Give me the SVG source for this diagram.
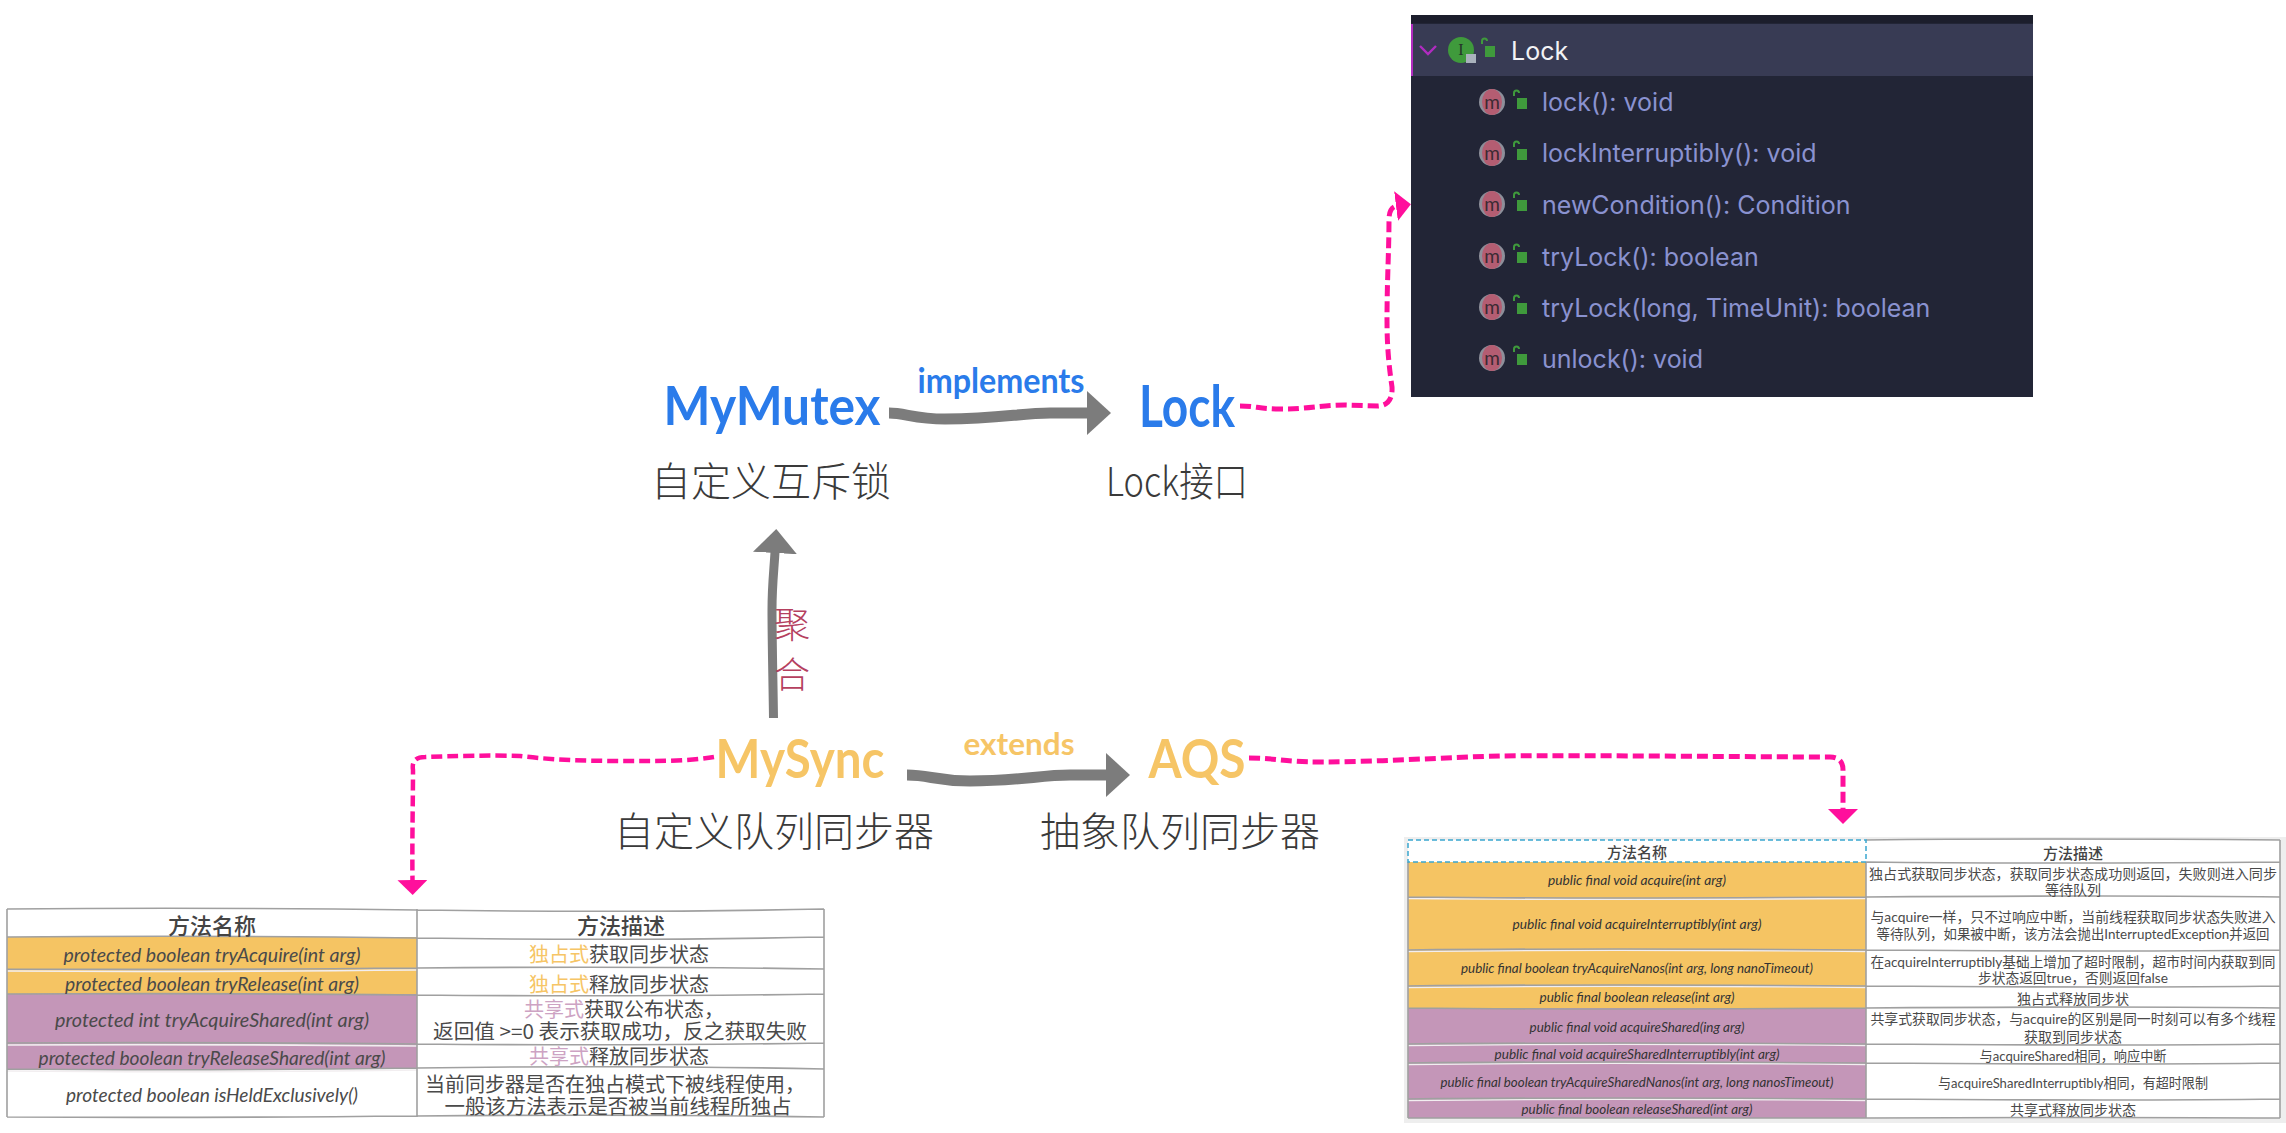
<svg xmlns="http://www.w3.org/2000/svg" width="2286" height="1133" viewBox="0 0 2286 1133">
<style>
text{font-family:"Lato","Noto Sans CJK SC",sans-serif;}
.c{text-anchor:middle;dominant-baseline:central;}
.cn{font-family:"Noto Sans CJK SC",sans-serif;font-weight:300;font-size:40px;fill:#3a3a3a;text-anchor:middle;}
.blue{fill:#2a7bea;font-weight:700;}
.gold{fill:#f6c566;font-weight:700;}
.th{font-family:"Noto Sans CJK SC",sans-serif;font-weight:500;fill:#444;}
.m1{font-size:19px;fill:#4a4a4a;font-style:italic;}
.d1{font-family:"Noto Sans CJK SC",sans-serif;font-size:20px;fill:#4a4a4a;}
.m2{font-size:13px;fill:#333;font-style:italic;}
.d2{font-size:14px;fill:#4a4a4a;}
.or{fill:#f5c463;}
.pu{fill:#c496b8;}
.wh{fill:#fff;}
.rule{fill:none;stroke:#a0a0a0;stroke-width:1.6;}
.hl{fill:none;stroke:#f2eef0;stroke-width:1.6;}
.item{font-family:"Inter",sans-serif;font-size:25px;fill:#8a92d0;dominant-baseline:central;}
.flow{fill:none;stroke:#7c7c7c;stroke-width:11;}
.dash{fill:none;stroke:#ff0f9c;stroke-width:5;stroke-dasharray:11 5;}
.mt{font-size:19px;fill:#3a2a33;text-anchor:middle;dominant-baseline:central;}
</style>
<defs>
<marker id="grayHead" viewBox="0 0 24 44" refX="1" refY="22" markerWidth="24" markerHeight="44" markerUnits="userSpaceOnUse" orient="auto"><path d="M0 0L24 22L0 44Z" fill="#7c7c7c"/></marker>
<marker id="pinkHead" viewBox="0 0 15 30" refX="1" refY="15" markerWidth="15" markerHeight="30" markerUnits="userSpaceOnUse" orient="auto"><path d="M0 0L15 15L0 30Z" fill="#ff0f9c"/></marker>
<g id="pad"><path d="M-6 -7V-10A2.5 2.5 0 0 1 -1 -10" fill="none" stroke="#3f9a3c" stroke-width="2"/><rect x="-3" y="-5" width="10" height="11" fill="#3f9a3c"/></g>
<g id="mbase"><circle r="13" fill="#8d8f9a"/><ellipse rx="10" ry="13" fill="#b45d72"/></g>
</defs>

<g id="connectors">
<path class="flow" style="marker-end:url(#grayHead)" d="M889 413C905 413 915 419 945 419C1000 419 1020 413 1050 413L1088 413"/>
<path class="flow" style="stroke-width:9;marker-end:url(#grayHead)" d="M773.5 718C773 680 772 640 772 610C772 585 774 570 775 552"/>
<path class="flow" style="marker-end:url(#grayHead)" d="M907 775C930 775 935 781 970 781C1020 781 1040 775 1070 775L1107 775"/>
<path class="dash" style="marker-end:url(#pinkHead)" d="M1240 406C1255 406 1260 409 1280 409C1310 409 1320 405 1345 405L1378 406Q1393 405 1392 387C1388 360 1387 340 1387 320C1387 280 1389 250 1389 220Q1389 207 1397 206"/>
<path class="dash" style="stroke-width:4.5;marker-end:url(#pinkHead)" d="M714 757C690 761 660 761 640 761C600 761 560 761 520 756C490 755 450 756 425 757Q411 757 413 770C413 800 412 840 412.5 881"/>
<path class="dash" style="marker-end:url(#pinkHead)" d="M1249 758C1275 758 1285 762 1320 762C1380 762 1450 757 1500 756C1600 755 1750 757 1830 757Q1843 757 1843 770L1843 810"/>
</g>

<g id="node-mymutex">
<text class="blue" x="772" y="425" font-size="54" text-anchor="middle" textLength="217" lengthAdjust="spacingAndGlyphs">MyMutex</text>
<text class="cn" x="771" y="496">自定义互斥锁</text>
</g>
<g id="node-lock">
<text class="blue" x="1187" y="427" font-size="58" text-anchor="middle" textLength="96" lengthAdjust="spacingAndGlyphs">Lock</text>
<text class="cn" x="1177" y="496" textLength="142" lengthAdjust="spacingAndGlyphs">Lock接口</text>
</g>
<g id="node-mysync">
<text class="gold" x="800" y="778" font-size="54" text-anchor="middle" textLength="169" lengthAdjust="spacingAndGlyphs">MySync</text>
<text class="cn" x="774" y="846">自定义队列同步器</text>
</g>
<g id="node-aqs">
<text class="gold" x="1197" y="778" font-size="54" text-anchor="middle" textLength="97" lengthAdjust="spacingAndGlyphs">AQS</text>
<text class="cn" x="1180" y="846">抽象队列同步器</text>
</g>

<g id="connector-labels">
<text class="blue" x="1001" y="393" font-size="34" text-anchor="middle" textLength="167" lengthAdjust="spacingAndGlyphs">implements</text>
<text class="gold" x="1019" y="755" font-size="30" text-anchor="middle" textLength="111" lengthAdjust="spacingAndGlyphs">extends</text>
<text x="792" y="638" font-size="36" text-anchor="middle" style="font-family:'Noto Sans CJK SC',sans-serif;font-weight:300" fill="#b5405f">聚</text>
<text x="792" y="688" font-size="36" text-anchor="middle" style="font-family:'Noto Sans CJK SC',sans-serif;font-weight:300" fill="#b5405f">合</text>
</g>

<g id="node-lock-structure">
<rect x="1411" y="15" width="622" height="382" fill="#222536"/>
<rect x="1411" y="15" width="622" height="8" fill="#1c1e2c"/>
<rect x="1411" y="24" width="622" height="52" fill="#383b54"/>
<rect x="1411" y="24" width="2" height="52" fill="#b02cc0"/>
<path d="M1420 46L1428 54L1436 46" fill="none" stroke="#b02cc0" stroke-width="2.4"/>
<circle cx="1461" cy="50" r="13" fill="#3f9a3c"/>
<text x="1461" y="49" font-size="16" class="c" style="font-family:'Liberation Serif',serif" fill="#24352a">I</text>
<rect x="1466" y="54" width="10" height="9" fill="#a9b2bc"/>
<use href="#pad" x="1488" y="51"/>
<text x="1511" y="51" style="font-family:'Inter',sans-serif;dominant-baseline:central" font-size="25" fill="#f2f2f5">Lock</text>
<g id="row-lock"><use href="#mbase" x="1492" y="102"/><text class="mt" x="1492" y="101">m</text><use href="#pad" x="1520" y="103"/><text class="item" x="1542" y="102">lock(): void</text></g>
<g id="row-lockinterruptibly"><use href="#mbase" x="1492" y="153"/><text class="mt" x="1492" y="152">m</text><use href="#pad" x="1520" y="154"/><text class="item" x="1542" y="153">lockInterruptibly(): void</text></g>
<g id="row-newcondition"><use href="#mbase" x="1492" y="204"/><text class="mt" x="1492" y="203">m</text><use href="#pad" x="1520" y="205"/><text class="item" x="1542" y="205">newCondition(): Condition</text></g>
<g id="row-trylock"><use href="#mbase" x="1492" y="256"/><text class="mt" x="1492" y="255">m</text><use href="#pad" x="1520" y="257"/><text class="item" x="1542" y="257">tryLock(): boolean</text></g>
<g id="row-trylock-timed"><use href="#mbase" x="1492" y="307"/><text class="mt" x="1492" y="306">m</text><use href="#pad" x="1520" y="308"/><text class="item" x="1542" y="308">tryLock(long, TimeUnit): boolean</text></g>
<g id="row-unlock"><use href="#mbase" x="1492" y="358"/><text class="mt" x="1492" y="357">m</text><use href="#pad" x="1520" y="359"/><text class="item" x="1542" y="359">unlock(): void</text></g>
</g>

<g id="node-table-mysync">
<rect class="or" x="7" y="937" width="410" height="57"/>
<rect class="pu" x="7" y="994" width="410" height="75"/>
<path class="hl" d="M7 971Q200 972 417 970M7 1045Q200 1044 417 1046M7 1071Q200 1073 417 1070"/>
<path class="rule" d="M7 909Q200 907 417 910T824 909M7 937Q200 935 417 938T824 937M7 969Q200 970 417 968T824 969M7 994Q200 993 417 995T824 994M7 1043Q200 1042 417 1044T824 1043M7 1069Q200 1071 417 1068T824 1069M7 1117Q200 1118 417 1116T824 1117M7 909V1117M417 909V1117M824 909V1117"/>
<text class="th c" x="212" y="924" font-size="22">方法名称</text>
<text class="th c" x="621" y="924" font-size="22">方法描述</text>
<text class="m1 c" x="212" y="954" textLength="297" lengthAdjust="spacingAndGlyphs">protected boolean tryAcquire(int arg)</text>
<text class="m1 c" x="212" y="983" textLength="294" lengthAdjust="spacingAndGlyphs">protected boolean tryRelease(int arg)</text>
<text class="m1 c" x="212" y="1019" textLength="314" lengthAdjust="spacingAndGlyphs">protected int tryAcquireShared(int arg)</text>
<text class="m1 c" x="212" y="1057" textLength="347" lengthAdjust="spacingAndGlyphs">protected boolean tryReleaseShared(int arg)</text>
<text class="m1 c" x="212" y="1094" textLength="292" lengthAdjust="spacingAndGlyphs">protected boolean isHeldExclusively()</text>
<text class="d1 c" x="619" y="953"><tspan fill="#f6c566">独占式</tspan>获取同步状态</text>
<text class="d1 c" x="619" y="983"><tspan fill="#f6c566">独占式</tspan>释放同步状态</text>
<text class="d1 c" x="624" y="1008"><tspan fill="#cda3c3">共享式</tspan>获取公布状态，</text>
<text class="d1 c" x="620" y="1030" textLength="374" lengthAdjust="spacingAndGlyphs">返回值 &gt;=0 表示获取成功，反之获取失败</text>
<text class="d1 c" x="619" y="1055"><tspan fill="#cda3c3">共享式</tspan>释放同步状态</text>
<text class="d1 c" x="615" y="1083">当前同步器是否在独占模式下被线程使用，</text>
<text class="d1 c" x="618" y="1105" textLength="347" lengthAdjust="spacingAndGlyphs">一般该方法表示是否被当前线程所独占</text>
</g>

<g id="node-table-aqs">
<rect x="1404" y="837" width="882" height="286" fill="#eeeeee"/>
<rect class="wh" x="1408" y="840" width="872" height="278"/>
<rect class="or" x="1408" y="862" width="458" height="146"/>
<rect class="pu" x="1408" y="1008" width="458" height="110"/>
<path class="hl" d="M1408 898.500Q1600 900 1866 898.500M1408 951.500Q1600 949 1866 951.500M1408 987.500Q1600 985 1866 987.500M1408 1045.500Q1600 1043 1866 1045.500M1408 1064.500Q1600 1062 1866 1064.500M1408 1100.500Q1600 1098 1866 1100.500"/>
<path class="rule" d="M1408 897Q1600 899 1866 897T2280 897M1408 950Q1600 948 1866 950T2280 950M1408 986Q1600 984 1866 986T2280 986M1408 1008Q1600 1010 1866 1008T2280 1008M1408 1044Q1600 1042 1866 1044T2280 1044M1408 1063Q1600 1061 1866 1063T2280 1063M1408 1099Q1600 1097 1866 1099T2280 1099M1408 1118Q1600 1119 1866 1118T2280 1118M1866 840Q2050 838 2280 840M1866 862Q2050 864 2280 862M1408 862V1118M2280 840V1118M1866 862V1118"/>
<rect x="1408" y="840" width="458" height="22" fill="#fff" stroke="#3aa6d0" stroke-width="1.5" stroke-dasharray="5 3"/>
<text class="th c" x="1637" y="851" font-size="15">方法名称</text>
<text class="th c" x="2073" y="852" font-size="15">方法描述</text>
<text class="m2 c" x="1637" y="880" textLength="178" lengthAdjust="spacingAndGlyphs">public final void acquire(int arg)</text>
<text class="m2 c" x="1637" y="924" textLength="249" lengthAdjust="spacingAndGlyphs">public final void acquireInterruptibly(int arg)</text>
<text class="m2 c" x="1637" y="968" textLength="352" lengthAdjust="spacingAndGlyphs">public final boolean tryAcquireNanos(int arg, long nanoTimeout)</text>
<text class="m2 c" x="1637" y="997" textLength="195" lengthAdjust="spacingAndGlyphs">public final boolean release(int arg)</text>
<text class="m2 c" x="1637" y="1027" textLength="215" lengthAdjust="spacingAndGlyphs">public final void acquireShared(ing arg)</text>
<text class="m2 c" x="1637" y="1054" textLength="285" lengthAdjust="spacingAndGlyphs">public final void acquireSharedInterruptibly(int arg)</text>
<text class="m2 c" x="1637" y="1082" textLength="393" lengthAdjust="spacingAndGlyphs">public final boolean tryAcquireSharedNanos(int arg, long nanosTimeout)</text>
<text class="m2 c" x="1637" y="1109" textLength="231" lengthAdjust="spacingAndGlyphs">public final boolean releaseShared(int arg)</text>
<text class="d2 c" x="2073" y="873" textLength="408" lengthAdjust="spacingAndGlyphs">独占式获取同步状态，获取同步状态成功则返回，失败则进入同步</text>
<text class="d2 c" x="2073" y="889">等待队列</text>
<text class="d2 c" x="2073" y="916" textLength="405" lengthAdjust="spacingAndGlyphs">与acquire一样，只不过响应中断，当前线程获取同步状态失败进入</text>
<text class="d2 c" x="2073" y="933" textLength="393" lengthAdjust="spacingAndGlyphs">等待队列，如果被中断，该方法会抛出InterruptedException并返回</text>
<text class="d2 c" x="2073" y="961" textLength="405" lengthAdjust="spacingAndGlyphs">在acquireInterruptibly基础上增加了超时限制，超市时间内获取到同</text>
<text class="d2 c" x="2073" y="977" textLength="190" lengthAdjust="spacingAndGlyphs">步状态返回true，否则返回false</text>
<text class="d2 c" x="2073" y="998">独占式释放同步状</text>
<text class="d2 c" x="2073" y="1018" textLength="405" lengthAdjust="spacingAndGlyphs">共享式获取同步状态，与acquire的区别是同一时刻可以有多个线程</text>
<text class="d2 c" x="2073" y="1036">获取到同步状态</text>
<text class="d2 c" x="2073" y="1055" textLength="187" lengthAdjust="spacingAndGlyphs">与acquireShared相同，响应中断</text>
<text class="d2 c" x="2073" y="1082" textLength="270" lengthAdjust="spacingAndGlyphs">与acquireSharedInterruptibly相同，有超时限制</text>
<text class="d2 c" x="2073" y="1109">共享式释放同步状态</text>
</g>
</svg>
